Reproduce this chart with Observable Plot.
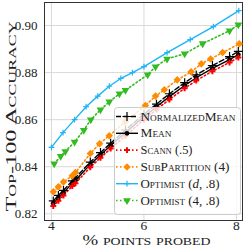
<!DOCTYPE html>
<html><head><meta charset="utf-8">
<script src="https://cdn.jsdelivr.net/npm/d3@7"></script>
<script src="https://cdn.jsdelivr.net/npm/@observablehq/plot@0.6"></script>
<style>
body{margin:0;background:#fff;}
#wrap{position:relative;width:249px;height:249px;}
#legend{position:absolute;left:0;top:0;pointer-events:none;}
</style></head><body><div id="wrap"></div>
<script>
// x positions (% points probed)
const xMean = [4.04, 4.15, 4.26, 4.45, 4.52, 4.84, 5.06, 5.28, 5.6, 6.0, 6.27, 6.55, 6.88, 7.13, 7.48, 7.85, 8.04];
const normalizedMean = [0.8255, 0.8278, 0.8300, 0.8340, 0.8353, 0.8420, 0.8460, 0.8500, 0.8556, 0.8623, 0.8666, 0.8710, 0.8757, 0.8790, 0.8830, 0.8868, 0.8890];
const mean = [0.8245, 0.8268, 0.8290, 0.8330, 0.8343, 0.8410, 0.8450, 0.8490, 0.8545, 0.8612, 0.8655, 0.8698, 0.8745, 0.8778, 0.8818, 0.8855, 0.8876];
const scann = [0.8233, 0.8255, 0.8278, 0.8318, 0.8330, 0.8398, 0.8438, 0.8477, 0.8532, 0.8600, 0.8643, 0.8686, 0.8733, 0.8766, 0.8806, 0.8843, 0.8864];
const xSub = [4.04, 4.15, 4.26, 4.45, 4.52, 4.84, 5.04, 5.25, 5.6, 6.03, 6.25, 6.44, 6.72, 7.02, 7.24, 7.44, 7.7, 8.06];
const subPartition = [0.8294, 0.8315, 0.8335, 0.8362, 0.8375, 0.8456, 0.8498, 0.8532, 0.8592, 0.8660, 0.8700, 0.8727, 0.8769, 0.8803, 0.8837, 0.8858, 0.8885, 0.8922];
const xOptD = [4.0, 4.25, 4.5, 4.75, 5.0, 5.25, 5.5, 5.75, 6.0, 6.5, 7.0, 7.5, 8.05];
const optimistD = [0.8482, 0.8545, 0.8600, 0.8655, 0.8700, 0.8742, 0.8775, 0.8800, 0.8825, 0.8885, 0.8940, 0.8995, 0.9063];
const xOpt4 = [4.06, 4.2, 4.3, 4.5, 4.7, 4.85, 5.06, 5.25, 5.47, 5.6, 6.08, 6.25, 6.5, 6.88, 7.27, 7.85, 8.04];
const optimist4 = [0.8413, 0.8445, 0.8465, 0.8505, 0.8555, 0.8600, 0.8642, 0.8676, 0.8710, 0.8725, 0.8791, 0.8825, 0.8858, 0.8880, 0.8923, 0.8978, 0.9003];

const xTicks = [4, 6, 8];
const yTicks = [0.82, 0.84, 0.86, 0.88, 0.90];
const xLabel = "% points probed";
const yLabel = "Top-100 Accuracy";

const series = [
  {name: "NormalizedMean", xs: xMean, ys: normalizedMean, color: "#000000", dash: "5,2.5", symbol: "plus", r: 3, fill: "none", sw: 1.4},
  {name: "Mean", xs: xMean, ys: mean, color: "#000000", dash: null, symbol: "circle", r: 2.4, fill: "#000000", sw: 1.4},
  {name: "Scann (.5)", xs: xMean, ys: scann, color: "#ff0000", dash: "1.5,2.5", symbol: "cross", r: 2.5, fill: "#ff0000", sw: 1.6},
  {name: "SubPartition (4)", xs: xSub, ys: subPartition, color: "#ff8c00", dash: "1.5,2.5", symbol: "square", r: 3.0, fill: "#ff8c00", sw: 1.6, rot: 45},
  {name: "Optimist (d, .8)", xs: xOptD, ys: optimistD, color: "#1eb4f5", dash: null, symbol: "plus", r: 2.0, fill: "none", sw: 1.4},
  {name: "Optimist (4, .8)", xs: xOpt4, ys: optimist4, color: "#33bb22", dash: "1.5,2.5", symbol: "triangle", r: 2.9, fill: "#33bb22", sw: 1.6, rot: 180}
];

const marks = [
  Plot.gridX(xTicks, {stroke: "#d9d9d9", strokeOpacity: 1, strokeWidth: 1}),
  Plot.gridY(yTicks, {stroke: "#d9d9d9", strokeOpacity: 1, strokeWidth: 1}),
  Plot.frame({stroke: "#333", strokeWidth: 1}),
  Plot.axisX(xTicks, {tickSize: 0, tickPadding: 0, fontSize: 13.5, label: null, tickFormat: d3.format("d")}),
  Plot.axisY(yTicks, {tickSize: 0, tickPadding: 7, fontSize: 13, label: null, tickFormat: d3.format(".2f")})
];
for (const s of series) {
  const data = s.xs.map((x, i) => ({x, y: s.ys[i]}));
  marks.push(Plot.line(data, {x: "x", y: "y", stroke: s.color, strokeWidth: s.sw, strokeDasharray: s.dash || undefined}));
}
for (const s of series) {
  const data = s.xs.map((x, i) => ({x, y: s.ys[i]}));
  const isStroke = s.fill === "none";
  marks.push(Plot.dot(data, {x: "x", y: "y", symbol: () => s.symbol, r: s.r, rotate: s.rot || 0,
    fill: isStroke ? "none" : s.fill, stroke: isStroke ? s.color : "none", strokeWidth: isStroke ? 1.2 : 0}));
}
marks.push(Plot.text([xLabel], {frameAnchor: "bottom", lineAnchor: "middle", textAnchor: "middle", dy: 20, dx: 3, fontSize: 15, fontVariant: "small-caps", className: "xlab", fill: "#222"}));
marks.push(Plot.text([yLabel], {frameAnchor: "left", lineAnchor: "middle", textAnchor: "middle", dx: -33, dy: 5, rotate: -90, fontSize: 15, fontVariant: "small-caps", className: "ylab", fill: "#222"}));

const chart = Plot.plot({
  width: 249, height: 249,
  marginLeft: 44, marginRight: 7, marginTop: 2, marginBottom: 29,
  x: {domain: [3.85, 8.13]},
  y: {domain: [0.81716, 0.90977]},
  style: {fontFamily: "'Liberation Serif', serif", color: "#222", background: "#fff"},
  marks
});
const wrap = document.getElementById("wrap");
wrap.appendChild(chart);
d3.select(chart).selectAll(".xlab text").attr("textLength", 128).attr("lengthAdjust", "spacingAndGlyphs");
d3.select(chart).selectAll(".ylab text").attr("textLength", 190).attr("lengthAdjust", "spacingAndGlyphs");

// legend overlay
const leg = d3.select(wrap).append("svg").attr("id", "legend").attr("width", 249).attr("height", 249);
const bx = 114.5, by = 107.5, bw = 126, bh = 107;
leg.append("rect").attr("x", bx).attr("y", by).attr("width", bw).attr("height", bh).attr("rx", 3)
  .attr("fill", "#fff").attr("fill-opacity", 0.8).attr("stroke", "#cccccc").attr("stroke-width", 1);
const textW = [95, 31, 52, 89, 79, 79];
const symMap = {plus: d3.symbolPlus, circle: d3.symbolCircle, cross: d3.symbolCross, square: d3.symbolSquare, triangle: d3.symbolTriangle};
series.forEach((s, i) => {
  const yy = 116.5 + i * 16.8;
  const g = leg.append("g");
  const ln = g.append("line").attr("x1", 116).attr("x2", 138).attr("y1", yy).attr("y2", yy)
    .attr("stroke", s.color).attr("stroke-width", s.sw);
  if (s.dash) ln.attr("stroke-dasharray", s.dash);
  const isStroke = s.fill === "none";
  const sym = d3.symbol(symMap[s.symbol], Math.PI * s.r * s.r);
  g.append("path").attr("d", sym()).attr("transform", `translate(127,${yy}) rotate(${s.rot || 0})`)
    .attr("fill", isStroke ? "none" : s.fill).attr("stroke", isStroke ? s.color : "none").attr("stroke-width", 1.2);
  const t = g.append("text").attr("x", 140.5).attr("y", yy + 4).attr("font-family", "'Liberation Serif', serif")
    .attr("font-size", 11.5).attr("fill", "#222").style("font-variant", "small-caps")
    .attr("textLength", textW[i]).attr("lengthAdjust", "spacingAndGlyphs");
  const m = s.name.match(/^(Optimist \()d(, \.8\))$/);
  if (m) {
    t.append("tspan").text(m[1]);
    t.append("tspan").text("d").style("font-style", "italic").style("font-variant", "normal");
    t.append("tspan").text(m[2]);
  } else {
    t.text(s.name);
  }
});
</script></body></html>
